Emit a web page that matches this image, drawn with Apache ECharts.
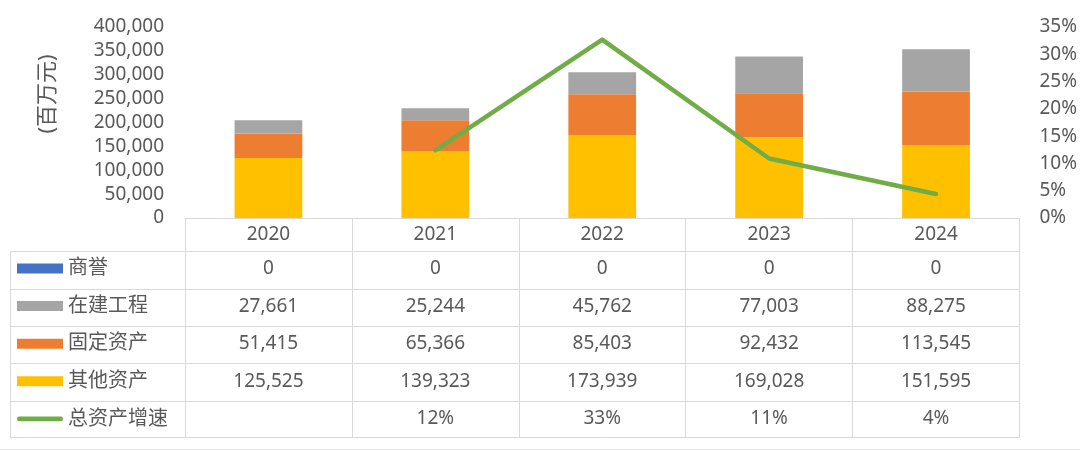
<!DOCTYPE html>
<html><head><meta charset="utf-8">
<script src="https://cdn.jsdelivr.net/npm/echarts@6/dist/echarts.min.js"></script>
<style>html,body{margin:0;padding:0;background:#fff}#c{width:1080px;height:451px}</style>
</head><body><div id="c"></div>
<script>
// ---- data ----
const years = ['2020', '2021', '2022', '2023', '2024'];
const goodwill = [0, 0, 0, 0, 0];                                  // 商誉
const construction = [27661, 25244, 45762, 77003, 88275];          // 在建工程
const fixedAssets = [51415, 65366, 85403, 92432, 113545];          // 固定资产
const otherAssets = [125525, 139323, 173939, 169028, 151595];      // 其他资产
const growth = [null, 12.4, 32.7, 10.9, 4.4];                      // 总资产增速 (%)

const FONT = '"Noto Sans", "Noto Sans CJK SC", sans-serif';
const TXT = '#595959';
const LINE = '#d9d9d9';
const FS = 19;
const C_GOOD = '#4472C4', C_CONS = '#A5A5A5', C_FIX = '#ED7D31', C_OTH = '#FFC000', C_GROW = '#70AD47';

const fmtNum = v => (v === null || v === undefined) ? '' : Number(v).toLocaleString('en-US');
const fmtPct = v => (v === null || v === undefined) ? '' : Math.round(v) + '%';

const AXIS_Y = 218;
function rowAxis(lineY, margin, getText, showLabel) {
  return {
    type: 'category', gridIndex: 0, data: years, position: 'bottom',
    offset: lineY - AXIS_Y,
    axisLine: { show: true, onZero: false, lineStyle: { color: LINE, width: 1 } },
    axisTick: { show: false },
    splitLine: { show: false },
    axisLabel: {
      show: showLabel !== false, interval: 0, margin: margin, verticalAlign: 'middle',
      fontSize: FS, color: TXT, fontFamily: FONT,
      formatter: (v, i) => getText(i)
    }
  };
}

const rowLines = [251, 289, 326, 363, 401, 437];

const chart = echarts.init(document.getElementById('c'), null, { renderer: 'canvas' });
chart.setOption({
  animation: false,
  backgroundColor: '#fff',
  grid: { left: 185, right: 57, top: 27, bottom: 451 - AXIS_Y, containLabel: false },
  legend: {
    orient: 'vertical', left: 17, top: 258.5, padding: 0,
    itemWidth: 46, itemHeight: 10, itemGap: 17.6,
    selectedMode: false,
    textStyle: { fontSize: 20, lineHeight: 20, color: TXT, fontFamily: FONT },
    data: [
      { name: '商誉', icon: 'rect' },
      { name: '在建工程', icon: 'rect' },
      { name: '固定资产', icon: 'rect' },
      { name: '其他资产', icon: 'rect' },
      { name: '总资产增速', icon: 'path://M2.5,0 L47.5,0 A2.5,2.5 0 0 1 47.5,5 L2.5,5 A2.5,2.5 0 0 1 2.5,0 Z',
        itemStyle: { color: C_GROW, borderWidth: 0 } }
    ]
  },
  xAxis: [
    {
      type: 'category', gridIndex: 0, data: years, position: 'bottom',
      axisLine: { show: true, onZero: false, lineStyle: { color: LINE, width: 1 } },
      axisTick: { show: true, interval: 0, alignWithLabel: false, length: 219, lineStyle: { color: LINE, width: 1 } },
      splitLine: { show: false },
      axisLabel: { interval: 0, margin: 17, verticalAlign: 'middle', fontSize: FS, color: TXT, fontFamily: FONT }
    },
    rowAxis(rowLines[0], 18, i => fmtNum(goodwill[i])),
    rowAxis(rowLines[1], 17.5, i => fmtNum(construction[i])),
    rowAxis(rowLines[2], 18, i => fmtNum(fixedAssets[i])),
    rowAxis(rowLines[3], 18.5, i => fmtNum(otherAssets[i])),
    rowAxis(rowLines[4], 18, i => fmtPct(growth[i])),
    rowAxis(rowLines[5], 18, i => '', false)
  ],
  yAxis: [
    {
      type: 'value', min: 0, max: 400000, interval: 50000,
      axisLine: { show: false }, axisTick: { show: false }, splitLine: { show: false },
      axisLabel: { margin: 21, fontSize: FS, color: TXT, fontFamily: FONT, formatter: v => fmtNum(v) }
    },
    {
      type: 'value', min: 0, max: 35, interval: 5, position: 'right',
      axisLine: { show: false }, axisTick: { show: false }, splitLine: { show: false },
      axisLabel: { margin: 20, fontSize: FS, color: TXT, fontFamily: FONT, formatter: v => v + '%' }
    }
  ],
  series: [
    { name: '其他资产', type: 'bar', stack: 'a', data: otherAssets, barWidth: '40.6%', itemStyle: { color: C_OTH } },
    { name: '固定资产', type: 'bar', stack: 'a', data: fixedAssets, itemStyle: { color: C_FIX } },
    { name: '在建工程', type: 'bar', stack: 'a', data: construction, itemStyle: { color: C_CONS } },
    { name: '商誉', type: 'bar', stack: 'a', data: goodwill, itemStyle: { color: C_GOOD } },
    { name: '总资产增速', type: 'line', yAxisIndex: 1, data: growth, symbol: 'none', smooth: false,
      connectNulls: false, lineStyle: { width: 4.5, color: C_GROW, cap: 'round', join: 'round' }, itemStyle: { color: C_GROW } }
  ],
  graphic: [
    { type: 'text', x: 48, y: 94, rotation: Math.PI / 2,
      style: { text: '(百万元)', fontSize: 22, fontFamily: FONT, fill: TXT, align: 'center', verticalAlign: 'middle' } },
    { type: 'line', shape: { x1: 10.5, y1: 251, x2: 10.5, y2: 437 }, style: { stroke: LINE, lineWidth: 1 } },
    ...rowLines.map(y => ({ type: 'line', shape: { x1: 10, y1: y + 0.5, x2: 186, y2: y + 0.5 }, style: { stroke: LINE, lineWidth: 1 } })),
    { type: 'line', shape: { x1: 0, y1: 449.5, x2: 1080, y2: 449.5 }, style: { stroke: '#e6e6e6', lineWidth: 1 } }
  ]
});
</script>
</body></html>
